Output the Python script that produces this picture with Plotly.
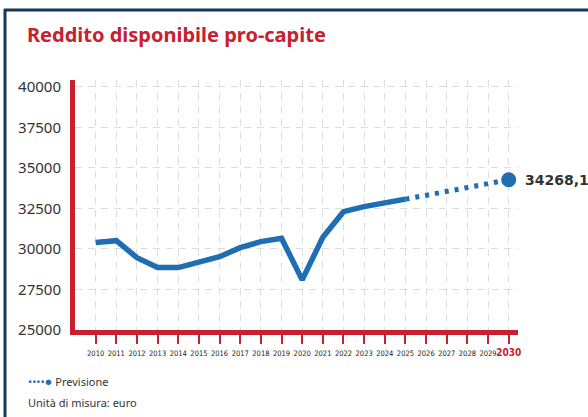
import plotly.graph_objects as go

years_hist = list(range(2010, 2026))
values_hist = [30400, 30510, 29460, 28850, 28850, 29160, 29520, 30080,
               30450, 30660, 28090, 30720, 32300, 32610, 32860, 33070]
years_fc = [2025, 2026, 2027, 2028, 2029, 2030]
values_fc = [33070, 33300, 33520, 33760, 34000, 34268.1]
tick_years = list(range(2010, 2031))
tick_labels = [str(y) for y in tick_years[:-1]] + [
    "<b><span style='color:#c8202f;font-size:10px;font-family:DejaVu Sans Condensed'>2030</span></b>"]
y_ticks = [25000, 27500, 30000, 32500, 35000, 37500, 40000]
y_tick_labels = ["25000", "27500", "30000", "32500", "35000", "37500", "40000"]
last_label = "34268,1"
title_text = "Reddito disponibile pro-capite"

BLUE = "#1f6db3"
RED = "#c8202f"
NAVY = "#16365c"

fig = go.Figure()
fig.add_trace(go.Scatter(x=years_hist, y=values_hist, mode="lines",
                         line=dict(color=BLUE, width=5.5), hoverinfo="skip",
                         showlegend=False))
fig.add_trace(go.Scatter(x=years_fc, y=values_fc, mode="lines",
                         line=dict(color=BLUE, width=5, dash="4px,6px"),
                         hoverinfo="skip", showlegend=False))
fig.add_trace(go.Scatter(x=[years_fc[-1]], y=[values_fc[-1]], mode="markers",
                         marker=dict(color=BLUE, size=15), hoverinfo="skip",
                         showlegend=False))

L, R, T, B = 75, 70, 80, 87
W, H = 588, 417
pw, ph = W - L - R, H - T - B

def px_to_paper_x(px):
    return (px - L) / pw

def px_to_paper_y(py):
    return (H - B - py) / ph

fig.update_layout(
    width=W, height=H,
    margin=dict(l=L, r=R, t=T, b=B, autoexpand=False),
    paper_bgcolor="white", plot_bgcolor="white",
    font=dict(family="DejaVu Sans", color="#333333"),
    title=dict(text="<b>" + title_text + "</b>", x=27 / W, xanchor="left",
               y=1 - 35 / H, yanchor="middle",
               font=dict(family="Noto Sans", size=20, color=RED)),
    xaxis=dict(range=[2009, 2030.45], tickvals=tick_years, ticktext=tick_labels,
               tickangle=0, automargin=False,
               showline=True, linecolor=RED, linewidth=5,
               ticks="outside", ticklen=9, tickwidth=2, tickcolor=RED,
               ticklabelstandoff=3,
               showgrid=True, gridcolor="#dddddd", gridwidth=1, griddash="7px,6px",
               tickfont=dict(family="DejaVu Sans Condensed", size=7.5, color="#222222"),
               zeroline=False, fixedrange=True),
    yaxis=dict(range=[25000, 40420], tickvals=y_ticks, ticktext=y_tick_labels,
               automargin=False,
               showline=True, linecolor=RED, linewidth=5,
               ticks="", showgrid=True, gridcolor="#dddddd", gridwidth=1,
               griddash="7px,6px", ticklabelstandoff=6,
               tickfont=dict(family="Noto Sans", size=15, color="#333333"),
               zeroline=False, fixedrange=True),
)

fig.add_annotation(x=years_fc[-1], y=values_fc[-1], text="<b>" + last_label + "</b>",
                   showarrow=False, xanchor="left", yanchor="middle", xshift=14,
                   font=dict(family="DejaVu Sans", size=14, color="#333333"))

fig.add_annotation(xref="paper", yref="paper", x=px_to_paper_x(26), y=px_to_paper_y(381),
                   xanchor="left", yanchor="middle", showarrow=False,
                   text="<span style='color:%s'>••••</span><span style='color:%s;font-size:13px'>●</span> Previsione" % (BLUE, BLUE),
                   font=dict(family="Noto Sans", size=11, color="#333333"))
fig.add_annotation(xref="paper", yref="paper", x=px_to_paper_x(26), y=px_to_paper_y(402),
                   xanchor="left", yanchor="middle", showarrow=False,
                   text="Unità di misura: euro",
                   font=dict(family="Noto Sans", size=11, color="#333333"))

# navy frame (top and left edges)
fig.add_shape(type="line", xref="paper", yref="paper",
              x0=px_to_paper_x(4), x1=px_to_paper_x(600), y0=px_to_paper_y(10), y1=px_to_paper_y(10),
              line=dict(color=NAVY, width=3))
fig.add_shape(type="line", xref="paper", yref="paper",
              x0=px_to_paper_x(5), x1=px_to_paper_x(5), y0=px_to_paper_y(9), y1=px_to_paper_y(430),
              line=dict(color=NAVY, width=3))

fig.write_html("out.html", config={"displayModeBar": False},
               post_script="document.body.style.margin='0';document.body.style.overflow='hidden';")
